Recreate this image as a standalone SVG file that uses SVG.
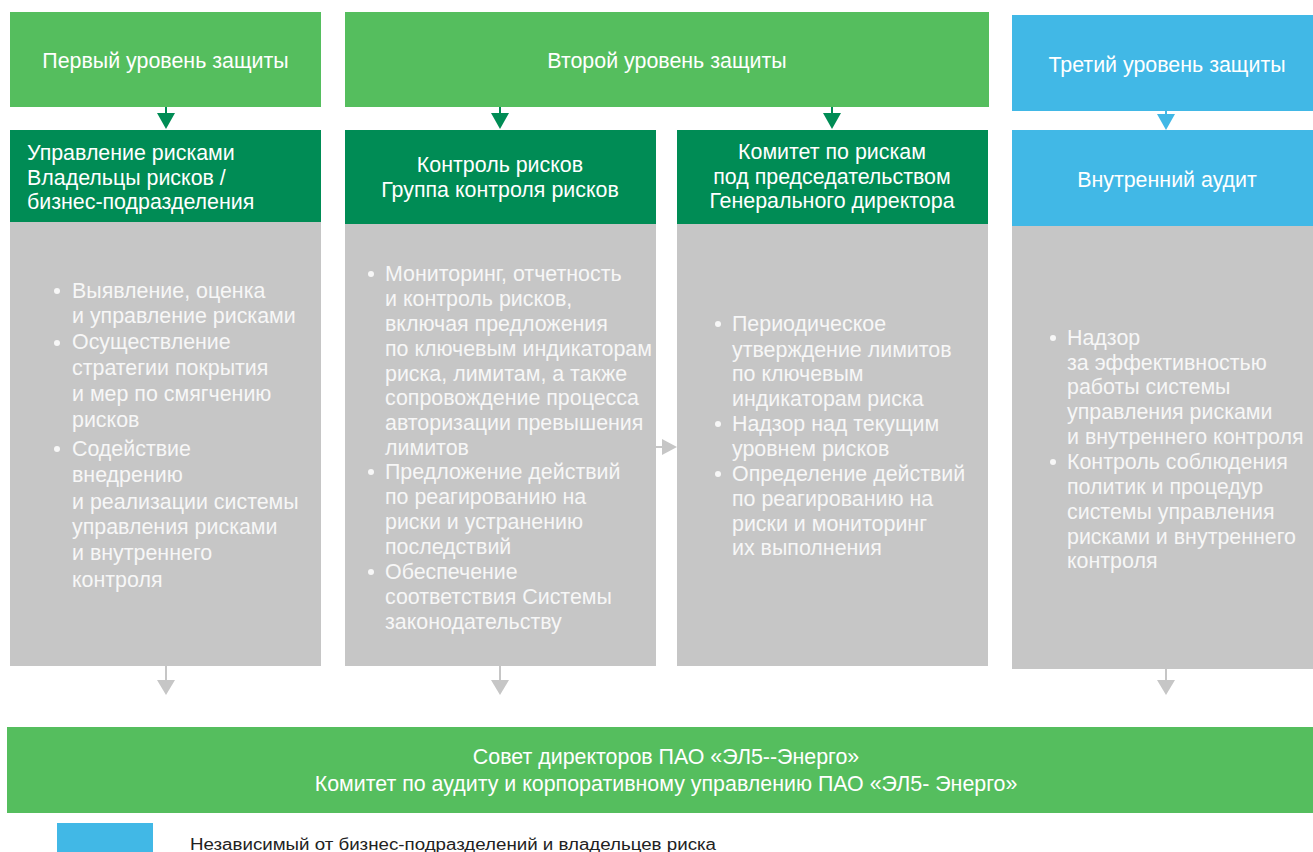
<svg xmlns="http://www.w3.org/2000/svg" width="1313" height="852" viewBox="0 0 1313 852">
<style>
.lg{fill:#55BE5E}
.dg{fill:#008C55}
.bl{fill:#41B8E6}
.gr{fill:#C6C6C6}
text{font-family:"Liberation Sans",Arial,sans-serif;fill:#FFFFFF}
.h{font-size:21.4px}
.b{font-size:21.4px;fill:#F7F7F7}
.c{text-anchor:middle}
.dot{fill:#F7F7F7}
</style>
<rect width="1313" height="852" fill="#FFFFFF"/>
<g id="connectors">
<g fill="#008C55">
<rect x="165" y="107" width="2" height="7"/><polygon points="157,113 175,113 166,129"/>
<rect x="499" y="107" width="2" height="7"/><polygon points="491,113 509,113 500,129"/>
<rect x="831" y="107" width="2" height="7"/><polygon points="823,113 841,113 832,129"/>
</g>
<g fill="#41B8E6">
<rect x="1165" y="110" width="2" height="5"/><polygon points="1157,114 1175,114 1166,130"/>
</g>
<g fill="#C6C6C6">
<rect x="165" y="666" width="2" height="15"/><polygon points="157,680 175,680 166,695"/>
<rect x="499" y="666" width="2" height="15"/><polygon points="491,680 509,680 500,695"/>
<rect x="1165" y="669" width="2" height="13"/><polygon points="1157,680 1175,680 1166,695"/>
<rect x="656" y="446" width="7" height="2"/><polygon points="662,439 662,455 677,447"/>
</g>
</g>
<g id="level1">
<rect class="lg" x="10" y="12" width="311" height="95"/>
<text class="h c" x="165.5" y="68">Первый уровень защиты</text>
</g>
<g id="level2">
<rect class="lg" x="345" y="12" width="644" height="95"/>
<text class="h c" x="667" y="68">Второй уровень защиты</text>
</g>
<g id="level3">
<rect class="bl" x="1012" y="15" width="301" height="96"/>
<text class="h c" x="1167" y="72">Третий уровень защиты</text>
</g>
<g id="risk-management">
<rect class="dg" x="10" y="130" width="311" height="92"/>
<text class="h" x="27" y="160">Управление рисками</text>
<text class="h" x="27" y="185">Владельцы рисков /</text>
<text class="h" x="27" y="209">бизнес-подразделения</text>
<rect class="gr" x="10" y="222" width="311" height="444"/>
<circle class="dot" cx="57" cy="291" r="3"/>
<circle class="dot" cx="57" cy="343" r="3"/>
<circle class="dot" cx="57" cy="449" r="3"/>
<text class="b" x="72" y="298">Выявление, оценка</text>
<text class="b" x="72" y="323">и управление рисками</text>
<text class="b" x="72" y="349">Осуществление</text>
<text class="b" x="72" y="375">стратегии покрытия</text>
<text class="b" x="72" y="401">и мер по смягчению</text>
<text class="b" x="72" y="427">рисков</text>
<text class="b" x="72" y="456">Содействие</text>
<text class="b" x="72" y="482">внедрению</text>
<text class="b" x="72" y="509">и реализации системы</text>
<text class="b" x="72" y="534">управления рисками</text>
<text class="b" x="72" y="560">и внутреннего</text>
<text class="b" x="72" y="587">контроля</text>
</g>
<g id="risk-control">
<rect class="dg" x="345" y="130" width="311" height="94"/>
<text class="h c" x="500" y="172">Контроль рисков</text>
<text class="h c" x="500" y="197">Группа контроля рисков</text>
<rect class="gr" x="345" y="224" width="311" height="442"/>
<circle class="dot" cx="371" cy="274" r="3"/>
<circle class="dot" cx="371" cy="472" r="3"/>
<circle class="dot" cx="371" cy="572" r="3"/>
<text class="b" x="385" y="281">Мониторинг, отчетность</text>
<text class="b" x="385" y="306">и контроль рисков,</text>
<text class="b" x="385" y="331">включая предложения</text>
<text class="b" x="385" y="356">по ключевым индикаторам</text>
<text class="b" x="385" y="381">риска, лимитам, а также</text>
<text class="b" x="385" y="405">сопровождение процесса</text>
<text class="b" x="385" y="430">авторизации превышения</text>
<text class="b" x="385" y="455">лимитов</text>
<text class="b" x="385" y="479">Предложение действий</text>
<text class="b" x="385" y="504">по реагированию на</text>
<text class="b" x="385" y="529">риски и устранению</text>
<text class="b" x="385" y="554">последствий</text>
<text class="b" x="385" y="579">Обеспечение</text>
<text class="b" x="385" y="604">соответствия Системы</text>
<text class="b" x="385" y="629">законодательству</text>
</g>
<g id="risk-committee">
<rect class="dg" x="677" y="130" width="311" height="94"/>
<text class="h c" x="832" y="159">Комитет по рискам</text>
<text class="h c" x="832" y="184">под председательством</text>
<text class="h c" x="832" y="208">Генерального директора</text>
<rect class="gr" x="677" y="224" width="311" height="442"/>
<circle class="dot" cx="718" cy="324" r="3"/>
<circle class="dot" cx="718" cy="424" r="3"/>
<circle class="dot" cx="718" cy="474" r="3"/>
<text class="b" x="732" y="331">Периодическое</text>
<text class="b" x="732" y="357">утверждение лимитов</text>
<text class="b" x="732" y="381">по ключевым</text>
<text class="b" x="732" y="406">индикаторам риска</text>
<text class="b" x="732" y="431">Надзор над текущим</text>
<text class="b" x="732" y="456">уровнем рисков</text>
<text class="b" x="732" y="481">Определение действий</text>
<text class="b" x="732" y="506">по реагированию на</text>
<text class="b" x="732" y="531">риски и мониторинг</text>
<text class="b" x="732" y="555">их выполнения</text>
</g>
<g id="internal-audit">
<rect class="bl" x="1012" y="130" width="301" height="96"/>
<text class="h c" x="1167" y="187">Внутренний аудит</text>
<rect class="gr" x="1012" y="226" width="301" height="443"/>
<circle class="dot" cx="1053" cy="338" r="3"/>
<circle class="dot" cx="1053" cy="462" r="3"/>
<text class="b" x="1067" y="345">Надзор</text>
<text class="b" x="1067" y="370">за эффективностью</text>
<text class="b" x="1067" y="394">работы системы</text>
<text class="b" x="1067" y="419">управления рисками</text>
<text class="b" x="1067" y="444">и внутреннего контроля</text>
<text class="b" x="1067" y="469">Контроль соблюдения</text>
<text class="b" x="1067" y="494">политик и процедур</text>
<text class="b" x="1067" y="519">системы управления</text>
<text class="b" x="1067" y="544">рисками и внутреннего</text>
<text class="b" x="1067" y="568">контроля</text>
</g>
<g id="board">
<rect class="lg" x="7" y="727" width="1306" height="86"/>
<text class="h c" x="666" y="764">Совет директоров ПАО «ЭЛ5--Энерго»</text>
<text class="h c" x="666" y="791">Комитет по аудиту и корпоративному управлению ПАО «ЭЛ5- Энерго»</text>
</g>
<g id="legend">
<rect class="bl" x="57" y="823" width="96" height="29"/>
<text x="190" y="850" style="font-size:16px;fill:#222222" textLength="526" lengthAdjust="spacingAndGlyphs">Независимый от бизнес-подразделений и владельцев риска</text>
</g>
</svg>
